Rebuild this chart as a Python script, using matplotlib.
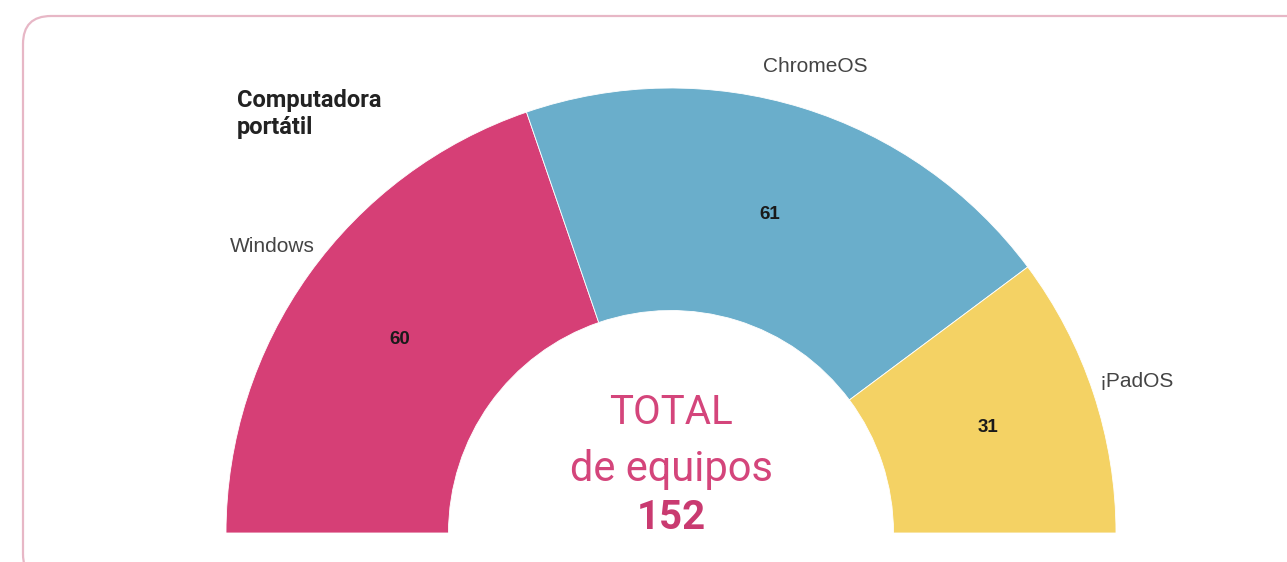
import numpy as np
import matplotlib.pyplot as plt
from matplotlib.patches import FancyBboxPatch

# data
sistemas = ["Windows", "ChromeOS", "¡PadOS"]
equipos = [60, 61, 31]
colores = ["#D63F76", "#6AAECB", "#F4D264"]
titulo = "Computadora\nportátil"
total = sum(equipos)

W, H = 1287, 562
fig = plt.figure(figsize=(W / 100, H / 100), dpi=100)
ax = fig.add_axes([0, 0, 1, 1])

# rounded frame (goes past the right and bottom edges)
frame = FancyBboxPatch((23, -20), 1300, H - 16 + 20, boxstyle="round,pad=0,rounding_size=28",
                       transform=ax.transData, fill=False, edgecolor="#E7B7C6", lw=1.6,
                       clip_on=False)
ax.add_patch(frame)

# half donut: the hidden bottom half equals the total
cx, cy = 671, H - 533
r_out = 445
wedges, _ = ax.pie(equipos + [total], colors=colores + ["none"], startangle=180,
                   counterclock=False, radius=r_out, center=(cx, cy), frame=True,
                   wedgeprops=dict(width=r_out * 0.5, edgecolor="white", linewidth=0.6))
wedges[-1].set_edgecolor("none")

r_mid = r_out * 0.75
for w, val in zip(wedges[:-1], equipos):
    ang = np.deg2rad((w.theta1 + w.theta2) / 2)
    ax.text(cx + r_mid * np.cos(ang), cy + r_mid * np.sin(ang), str(val),
            ha="center", va="center", fontsize=13.5, fontweight="bold",
            color="#1a1a1a", family="Liberation Sans")

# category labels outside the ring
ax.text(315, H - 247, sistemas[0], ha="right", va="center", fontsize=15,
        color="#444444", family="Liberation Sans")
ax.text(815, H - 67, sistemas[1], ha="center", va="center", fontsize=15,
        color="#444444", family="Liberation Sans")
ax.text(1099, H - 381, sistemas[2], ha="left", va="center", fontsize=15,
        color="#444444", family="Liberation Sans")

ax.text(237, H - 114, titulo, ha="left", va="center", fontsize=17,
        fontweight="bold", color="#222222", family="Roboto", linespacing=1.2)

# centre text
ax.text(cx, H - 413, "TOTAL", ha="center", va="center", fontsize=29,
        color="#D4457B", family="Roboto")
ax.text(cx, H - 470, "de equipos", ha="center", va="center", fontsize=30,
        color="#D4457B", family="Roboto")
ax.text(cx, H - 518, str(total), ha="center", va="center", fontsize=29,
        fontweight="bold", color="#C93A70", family="Roboto")

ax.set_xlim(0, W)
ax.set_ylim(0, H)
ax.set_aspect("equal")
ax.axis("off")

fig.savefig("out.png", dpi=100, facecolor="white")
